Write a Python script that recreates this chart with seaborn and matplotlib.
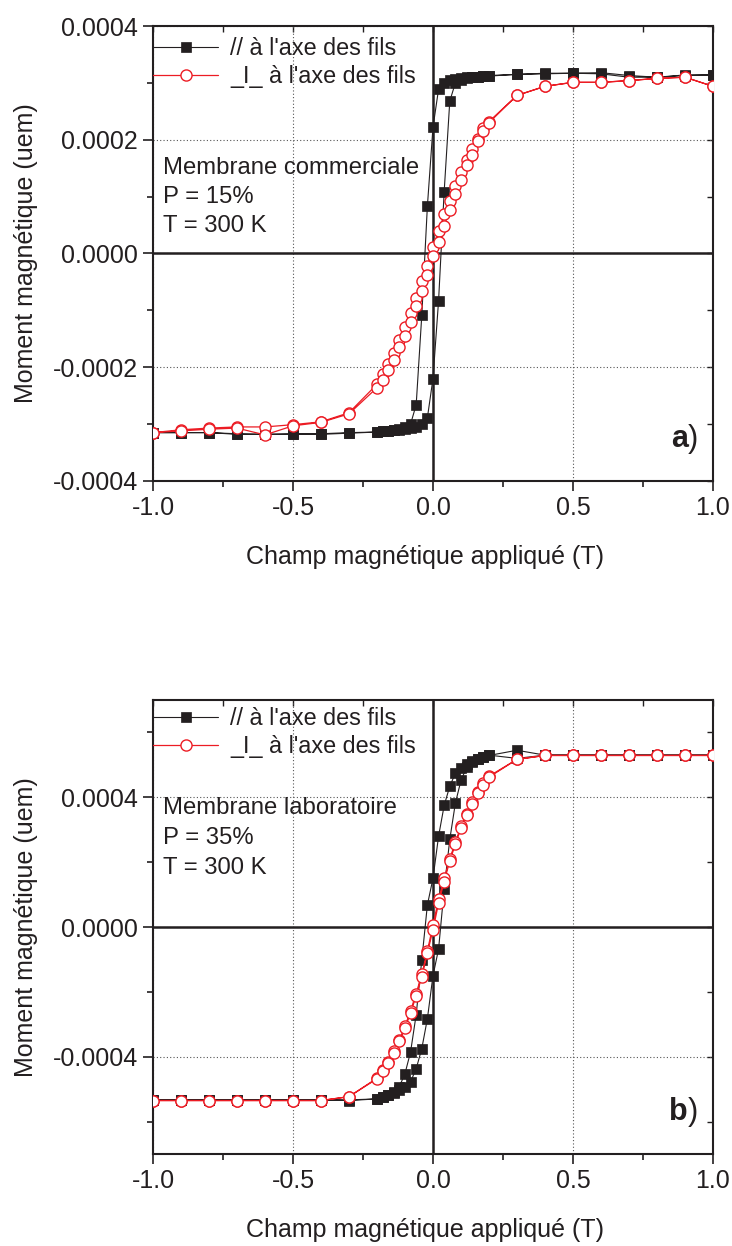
import numpy as np
import pandas as pd
import matplotlib
matplotlib.use("Agg")
import matplotlib.pyplot as plt
from matplotlib.ticker import MultipleLocator, FormatStrFormatter
from matplotlib.lines import Line2D
import seaborn as sns

sns.set_theme(style="white")
plt.rcParams['font.family'] = ['Liberation Sans', 'DejaVu Sans']
plt.rcParams['axes.unicode_minus'] = False

SCALE = 1e-4  # moments below are given in units of 1e-4 uem

# Field values (T) of the descending (+1 -> -1) and ascending (-1 -> +1) branches
field_desc = [1.0, 0.9, 0.8, 0.7, 0.6, 0.5, 0.4, 0.3,
              0.2, 0.18, 0.16, 0.14, 0.12, 0.10, 0.08, 0.06, 0.04, 0.02, 0.0,
              -0.02, -0.04, -0.06, -0.08, -0.10, -0.12, -0.14, -0.16, -0.18, -0.2,
              -0.3, -0.4, -0.5, -0.6, -0.7, -0.8, -0.9, -1.0]
field_asc = [-1.0, -0.9, -0.8, -0.7, -0.6, -0.5, -0.4, -0.3,
             -0.2, -0.18, -0.16, -0.14, -0.12, -0.10, -0.08, -0.06, -0.04, -0.02, 0.0,
             0.02, 0.04, 0.06, 0.08, 0.10, 0.12, 0.14, 0.16, 0.18, 0.2,
             0.3, 0.4, 0.5, 0.6, 0.7, 0.8, 0.9, 1.0]

# ---- Panel a : membrane commerciale ----
a_par_desc = [3.14, 3.14, 3.10, 3.13, 3.18, 3.17, 3.17, 3.15,
              3.12, 3.12, 3.11, 3.11, 3.10, 3.09, 3.07, 3.05, 3.00, 2.89, 2.22,
              0.83, -1.09, -2.66, -3.00, -3.05, -3.08, -3.10, -3.12, -3.13, -3.14,
              -3.16, -3.18, -3.18, -3.18, -3.18, -3.15, -3.15, -3.15]
a_par_asc = [-3.15, -3.15, -3.15, -3.17, -3.18, -3.17, -3.17, -3.15,
             -3.14, -3.13, -3.12, -3.11, -3.10, -3.09, -3.07, -3.05, -3.00, -2.89, -2.20,
             -0.83, 1.09, 2.68, 3.00, 3.05, 3.08, 3.10, 3.11, 3.12, 3.13,
             3.15, 3.16, 3.17, 3.16, 3.10, 3.10, 3.13, 3.14]
a_perp_desc = [2.94, 3.10, 3.08, 3.04, 3.01, 3.01, 2.94, 2.78,
               2.32, 2.20, 2.02, 1.83, 1.65, 1.43, 1.18, 0.92, 0.69, 0.39, 0.12,
               -0.22, -0.48, -0.78, -1.05, -1.30, -1.52, -1.75, -1.95, -2.12, -2.30,
               -2.80, -2.96, -3.01, -3.05, -3.05, -3.07, -3.10, -3.15]
a_perp_asc = [-3.15, -3.12, -3.09, -3.07, -3.19, -3.03, -2.97, -2.82,
              -2.36, -2.22, -2.05, -1.87, -1.65, -1.45, -1.20, -0.93, -0.66, -0.38, -0.05,
              0.21, 0.49, 0.77, 1.04, 1.30, 1.55, 1.74, 1.98, 2.15, 2.30,
              2.78, 2.94, 3.01, 3.01, 3.04, 3.08, 3.10, 2.94]

# ---- Panel b : membrane laboratoire ----
b_par_desc = [5.30, 5.30, 5.30, 5.30, 5.30, 5.30, 5.30, 5.20,
              5.30, 5.25, 5.19, 5.11, 5.02, 4.90, 4.74, 4.34, 3.75, 2.80, 1.50,
              0.68, -1.02, -2.70, -3.85, -4.52, -4.92, -5.08, -5.17, -5.23, -5.30,
              -5.35, -5.33, -5.33, -5.33, -5.33, -5.33, -5.33, -5.33]
b_par_asc = [-5.33, -5.33, -5.33, -5.33, -5.33, -5.33, -5.33, -5.33,
             -5.30, -5.25, -5.19, -5.11, -5.02, -4.92, -4.77, -4.37, -3.75, -2.83, -1.50,
             -0.68, 1.17, 2.70, 3.82, 4.52, 4.92, 5.08, 5.17, 5.23, 5.29,
             5.45, 5.30, 5.30, 5.30, 5.30, 5.30, 5.30, 5.30]
b_perp_desc = [5.29, 5.29, 5.29, 5.29, 5.29, 5.29, 5.29, 5.17,
               4.65, 4.43, 4.16, 3.84, 3.48, 3.10, 2.62, 2.10, 1.50, 0.85, 0.06,
               -0.74, -1.46, -2.05, -2.58, -3.06, -3.48, -3.82, -4.15, -4.40, -4.66,
               -5.23, -5.35, -5.35, -5.35, -5.35, -5.35, -5.35, -5.35]
b_perp_asc = [-5.35, -5.35, -5.35, -5.35, -5.35, -5.35, -5.35, -5.23,
              -4.68, -4.45, -4.20, -3.87, -3.52, -3.12, -2.65, -2.12, -1.54, -0.80, -0.09,
              0.74, 1.40, 2.04, 2.55, 3.05, 3.44, 3.78, 4.12, 4.37, 4.62,
              5.17, 5.29, 5.29, 5.29, 5.29, 5.29, 5.29, 5.29]

label_par = "// à l'axe des fils"
label_perp = "_I_ à l'axe des fils"
xlabel = "Champ magnétique appliqué (T)"
ylabel = "Moment magnétique (uem)"

INK = '#231f20'
RED = '#ec1c24'
FS = 18
FS_NOTE = 17.2
FS_LEG = 16.8

PAR_STYLE = dict(color=INK, lw=0.8, marker='s', markersize=6.8,
                 markerfacecolor=INK, markeredgecolor=INK, markeredgewidth=0.5)
PERP_STYLE = dict(color=RED, lw=0.9, marker='o', markersize=8,
                  markerfacecolor='white', markeredgecolor=RED,
                  markeredgewidth=1.0)

fig = plt.figure(figsize=(7.32, 12.46), dpi=100)
ax_a = fig.add_axes([0.209, 0.614, 0.765, 0.3651])
ax_b = fig.add_axes([0.209, 0.0738, 0.765, 0.3644])


def loop_frame(desc, asc):
    return pd.DataFrame({
        'field': field_desc + field_asc,
        'moment': [v * SCALE for v in desc + asc],
    })


def draw_panel(ax, par_d, par_a, perp_d, perp_a, ylim, ymajor, yminor,
               notes, letter, note_y, leg_y):
    ax.axhline(0, color=INK, lw=1.8, zorder=1.5)
    ax.axvline(0, color=INK, lw=1.8, zorder=1.5)
    sns.lineplot(data=loop_frame(par_d, par_a), x='field', y='moment', ax=ax,
                 sort=False, estimator=None, legend=False, zorder=3,
                 **PAR_STYLE)
    sns.lineplot(data=loop_frame(perp_d, perp_a), x='field', y='moment', ax=ax,
                 sort=False, estimator=None, legend=False, zorder=4,
                 **PERP_STYLE)
    ax.set_xlim(-1.0, 1.0)
    ax.set_ylim(*ylim)
    ax.xaxis.set_major_locator(MultipleLocator(0.5))
    ax.xaxis.set_minor_locator(MultipleLocator(0.25))
    ax.yaxis.set_major_locator(MultipleLocator(ymajor))
    ax.yaxis.set_minor_locator(MultipleLocator(yminor))
    ax.xaxis.set_major_formatter(FormatStrFormatter('%.1f'))
    ax.yaxis.set_major_formatter(FormatStrFormatter('%.4f'))
    ax.grid(True, which='major', color='#555555', linestyle=(0, (1, 2)), lw=0.8)
    for s in ax.spines.values():
        s.set_color(INK)
        s.set_linewidth(1.5)
        s.set_visible(True)
    ax.tick_params(which='major', direction='out', length=7, width=1.2,
                   color=INK, labelsize=FS, labelcolor=INK, pad=4,
                   left=True, bottom=True)
    ax.tick_params(which='minor', direction='out', length=4, width=1.2,
                   color=INK, left=True, bottom=True)
    sx = ax.secondary_xaxis('top')
    sx.xaxis.set_major_locator(MultipleLocator(0.5))
    sx.xaxis.set_minor_locator(MultipleLocator(0.25))
    sx.tick_params(which='both', direction='in', length=4, width=1.0,
                   color=INK, labeltop=False)
    sy = ax.secondary_yaxis('right')
    sy.yaxis.set_major_locator(MultipleLocator(ymajor))
    sy.yaxis.set_minor_locator(MultipleLocator(yminor))
    sy.tick_params(which='both', direction='in', length=4, width=1.0,
                   color=INK, labelright=False)
    for sec in (sx, sy):
        for s in sec.spines.values():
            s.set_visible(False)

    ax.set_xlabel(xlabel, fontsize=FS, color=INK)
    ax.set_ylabel(ylabel, fontsize=FS, color=INK)
    ax.xaxis.set_label_coords(0.485, -0.14)
    ax.yaxis.set_label_coords(-0.205, 0.5)

    for txt, yy in zip(notes, note_y):
        ax.text(0.018, yy, txt, transform=ax.transAxes, fontsize=FS_NOTE,
                color=INK, va='center', ha='left')
    ax.text(0.955, 0.092, letter, transform=ax.transAxes, fontsize=22,
            fontweight='bold', color=INK, va='center', ha='right')
    ax.text(0.955, 0.092, ')', transform=ax.transAxes, fontsize=22,
            color=INK, va='center', ha='left')

    handles = [Line2D([], [], **PAR_STYLE), Line2D([], [], **PERP_STYLE)]
    leg = ax.legend(handles, [label_par, label_perp], loc='upper left',
                    bbox_to_anchor=(0.0, leg_y), frameon=False, fontsize=FS_LEG,
                    handlelength=2.8, handletextpad=0.5, borderpad=0.0,
                    borderaxespad=0.0, labelspacing=0.22)
    for t in leg.get_texts():
        t.set_color(INK)


draw_panel(ax_a, a_par_desc, a_par_asc, a_perp_desc, a_perp_asc,
           (-0.0004, 0.0004), 0.0002, 0.0001,
           ["Membrane commerciale", "P = 15%", "T = 300 K"], 'a',
           [0.688, 0.624, 0.560], 0.976)
draw_panel(ax_b, b_par_desc, b_par_asc, b_perp_desc, b_perp_asc,
           (-0.0007, 0.0007), 0.0004, 0.0002,
           ["Membrane laboratoire", "P = 35%", "T = 300 K"], 'b',
           [0.762, 0.696, 0.630], 0.984)

fig.savefig('out.png', dpi=100, facecolor='white')
